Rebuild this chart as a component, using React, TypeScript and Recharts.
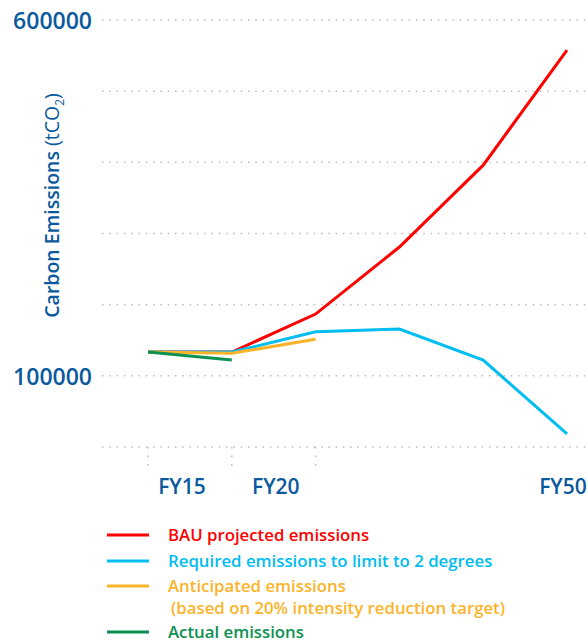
import React from "react";
import { LineChart, Line, XAxis, YAxis, CartesianGrid } from "recharts";

const years = ["FY15", "FY20", "FY25", "FY30", "FY40", "FY50"];
const xTickLabels = ["FY15", "FY20", "", "", "", "FY50"];
const bau = [133400, 133400, 186800, 281000, 396000, 557600];
const required = [133400, 133400, 162000, 165700, 122200, 18300];
const anticipated = [133400, 131600, 151300, null, null, null];
const actual = [133400, 122200, null, null, null, null];
const yTicks = [0, 100000, 200000, 300000, 400000, 500000, 600000];
const yTickLabels = ["", "100000", "", "", "", "", "600000"];

const data = years.map((year, i) => ({
  year,
  bau: bau[i],
  required: required[i],
  anticipated: anticipated[i],
  actual: actual[i],
}));

const BLUE = "#0b5a9e";
const FONT = "'Open Sans', sans-serif";

const series = [
  { key: "bau", name: "BAU projected emissions", color: "#ff0000" },
  { key: "required", name: "Required emissions to limit to 2 degrees", color: "#00bdf2" },
  { key: "anticipated", name: "Anticipated emissions", sub: "(based on 20% intensity reduction target)", color: "#fbb42a" },
  { key: "actual", name: "Actual emissions", color: "#0b9150" },
];

// label offsets to sit between the tick marks like the original
const xLabelDx = [34, 44, 0, 0, 0, -4];

function XTick(props: any) {
  const { x, y, index } = props;
  const label = xTickLabels[index];
  return (
    <g>
      {index <= 2 && (
        <line x1={x} x2={x} y1={y - 2} y2={y + 18} stroke="#bbb" strokeWidth={1.5} strokeDasharray="1.5 7" />
      )}
      {label && (
        <text
          x={x + xLabelDx[index]}
          y={y + 45}
          textAnchor="middle"
          fill={BLUE}
          fontSize={21}
          fontWeight={600}
          fontFamily={FONT}
        >
          {label}
        </text>
      )}
    </g>
  );
}

function YTick(props: any) {
  const { x, y, index } = props;
  const label = yTickLabels[index];
  if (!label) return null;
  return (
    <text x={x} y={y + 9} textAnchor="end" fill={BLUE} fontSize={23} fontWeight={600} fontFamily={FONT}>
      {label}
    </text>
  );
}

function YLabel(props: any) {
  const { viewBox } = props;
  const cx = viewBox.x + 59;
  const cy = viewBox.y + viewBox.height / 2 - 28;
  return (
    <text
      x={cx}
      y={cy}
      transform={`rotate(-90 ${cx} ${cy})`}
      textAnchor="middle"
      fill={BLUE}
      fontSize={19.5}
      fontWeight={600}
      fontFamily={FONT}
    >
      Carbon Emissions <tspan fontWeight={400}>(tCO</tspan>
      <tspan fontSize={12} dy={5} fontWeight={400}>2</tspan>
      <tspan dy={-5} fontWeight={400}>)</tspan>
    </text>
  );
}

function LegendBox() {
  return (
    <div
      style={{
        position: "absolute",
        left: 107,
        top: 523,
        width: 480,
        fontFamily: FONT,
        fontWeight: 600,
        fontSize: 16.8,
      }}
    >
      {series.map((s) => (
        <div key={s.key} style={{ display: "flex", alignItems: "flex-start", marginBottom: 1.5 }}>
          <svg width={61} height={24} style={{ flex: "none" }}>
            <line x1={0} x2={42} y1={12} y2={12} stroke={s.color} strokeWidth={3} />
          </svg>
          <div style={{ color: s.color, whiteSpace: "nowrap" }}>
            <div style={{ lineHeight: "20px", paddingTop: 2, paddingBottom: 2 }}>{s.name}</div>
            {s.sub && (
              <div style={{ marginLeft: 3, lineHeight: "20px", paddingBottom: 0.5 }}>{s.sub}</div>
            )}
          </div>
        </div>
      ))}
    </div>
  );
}

export default function App() {
  return (
    <div style={{ position: "absolute", left: 0, top: 0, width: 588, height: 643, background: "#fff", overflow: "hidden" }}>
      <LineChart width={588} height={643} data={data} margin={{ top: 20, right: 0, bottom: 146, left: 0 }}>
        <CartesianGrid vertical={false} stroke="#bbb" strokeWidth={1.5} strokeDasharray="1.5 5.8" />
        <XAxis
          dataKey="year"
          axisLine={false}
          tickLine={false}
          tickSize={0}
          height={50}
          padding={{ left: 46, right: 21 }}
          tick={<XTick />}
          interval={0}
        />
        <YAxis
          domain={[0, 600000]}
          ticks={yTicks}
          width={102}
          axisLine={false}
          tickLine={false}
          tickSize={0}
          tickMargin={10}
          tick={<YTick />}
          label={<YLabel />}
        />
        {series.map((s) => (
          <Line
            key={s.key}
            type="linear"
            dataKey={s.key}
            name={s.name}
            stroke={s.color}
            strokeWidth={3}
            dot={false}
            activeDot={false}
            isAnimationActive={false}
          />
        ))}
      </LineChart>
      <LegendBox />
    </div>
  );
}
